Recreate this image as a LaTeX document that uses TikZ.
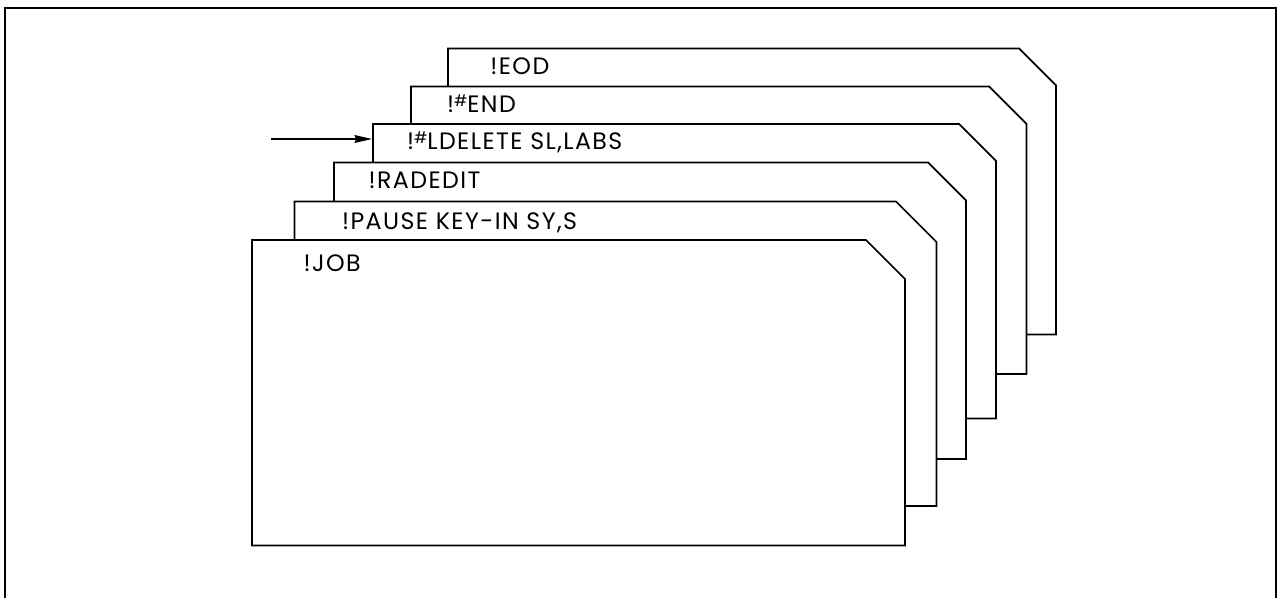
\documentclass[tikz,border=0pt]{standalone}
\usepackage{fontspec}
\usepackage{tikz}
\usetikzlibrary{arrows.meta}
\newfontfamily\cardfont[LetterSpace=6]{Poppins}
\newcommand{\hsh}{\raisebox{0.5ex}{\fontsize{9}{9}\selectfont\#}}

\begin{document}
\begin{tikzpicture}[
	x=0.02cm, y=-0.02cm,
	frame/.style={line width=1.3pt, black},
	card/.style={draw=black, fill=white, line width=1pt, line join=miter},
	cardtext/.style={anchor=base west, inner sep=0pt, font=\cardfont\fontsize{13.5}{13.5}\selectfont},
	arrow/.style={-{Stealth[length=10pt, width=4.5pt, inset=1pt]}, line width=0.7pt}
	]
	
	\useasboundingbox (0,0) rectangle (1279,598);
	\draw[frame] (5,598) -- (5,8) -- (1276,8) -- (1276,598);
	
	% cards, back to front
	\draw[card] (448,334.5) -- (448,48.5) -- (1019,48.5) -- (1056,85.5) -- (1056,334.5) -- cycle;
	\draw[card] (411,374) -- (411,86.5) -- (989,86.5) -- (1026.5,124) -- (1026.5,374) -- cycle;
	\draw[card] (373,418.5) -- (373,124) -- (959,124) -- (996,161) -- (996,418.5) -- cycle;
	\draw[card] (334,459) -- (334,162.5) -- (928,162.5) -- (966,200.5) -- (966,459) -- cycle;
	\draw[card] (294.5,506) -- (294.5,201.5) -- (896,201.5) -- (936.5,242) -- (936.5,506) -- cycle;
	\draw[card] (252,545.5) -- (252,240) -- (866,240) -- (905,279) -- (905,545.5) -- cycle;
	
	\node[cardtext] (eod) at (490,74.3) {!EOD};
	\node[cardtext] (end) at (446.7,112.7) {!\hsh END};
	\node[cardtext] (ldelete) at (406.7,150) {!\hsh LDELETE SL,LABS};
	\node[cardtext] (radedit) at (368.3,188.7) {!RADEDIT};
	\node[cardtext] (pause) at (341.7,229.3) {!PAUSE KEY-IN SY,S};
	\node[cardtext] (job) at (303.3,271.7) {!JOB};
	
	\coordinate (tail) at (271,139);
	\coordinate (deledge) at (372,139);
	\draw[arrow] (tail) -- (deledge);
	
\end{tikzpicture}
\end{document}
